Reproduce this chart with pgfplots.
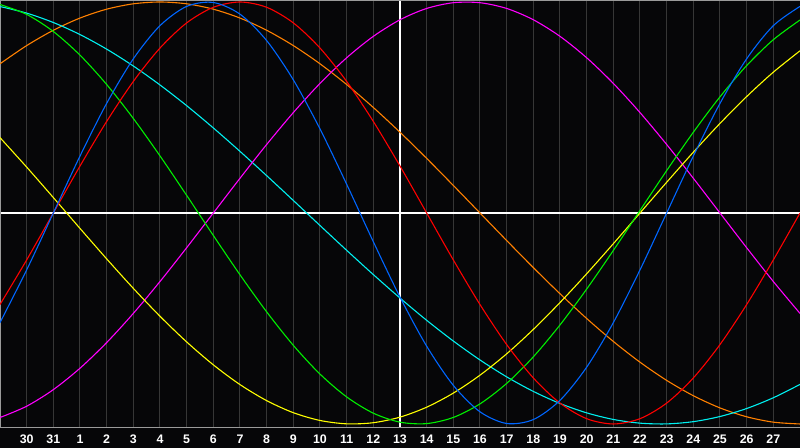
\documentclass[border=0pt]{standalone}
\usepackage{fontspec}
\setmainfont{Liberation Sans}
\usepackage{pgfplots}
\pgfplotsset{compat=1.18}
\definecolor{bg}{HTML}{060608}
\definecolor{gridc}{HTML}{363636}
\definecolor{bordc}{HTML}{9A9A9A}
\definecolor{cred}{HTML}{FF0000}
\definecolor{cblue}{HTML}{0066FF}
\definecolor{cgreen}{HTML}{00EE00}
\definecolor{ccyan}{HTML}{00F0F0}
\definecolor{corange}{HTML}{FF8000}
\definecolor{cyellow}{HTML}{FFFF00}
\definecolor{cmag}{HTML}{FF00FF}
\begin{document}
\begin{tikzpicture}
\fill[bg] (0,0) rectangle (400pt,224pt);
\useasboundingbox (0,0) rectangle (400pt,224pt);
\begin{axis}[at={(0pt,10pt)}, anchor=south west,
  width=400pt, height=214pt, scale only axis,
  xmin=0, xmax=30, ymin=-1.019, ymax=1.0095,
  axis line style={draw=none},
  xtick={1,...,29},
  xticklabels={30,31,1,2,3,4,5,6,7,8,9,10,11,12,13,14,15,16,17,18,19,20,21,22,23,24,25,26,27},
  ytick=\empty, major tick length=0pt,
  xmajorgrids, grid style={color=gridc, line width=0.5pt},
  xticklabel style={font=\fontsize{6.2}{7}\selectfont\bfseries, text=white, anchor=center, yshift=-5.5pt},
  every axis plot/.append style={line width=0.55pt, smooth, no markers},
]
\draw[white, line width=0.55pt] (axis cs:15,-1.019) -- (axis cs:15,1.0095);
\draw[white, line width=0.55pt] (axis cs:0,0) -- (axis cs:30,0);
\draw[bordc, line width=1pt] (rel axis cs:0,0) -- (rel axis cs:0,1) -- (rel axis cs:1,1);
\draw[bordc, line width=0.6pt] (rel axis cs:0,0) -- (rel axis cs:1,0);
% orange (48)
\addplot[corange] coordinates {(0,0.7071)(1,0.7934)(2,0.8660)(3,0.9239)(4,0.9659)(5,0.9914)(6,1)(7,0.9914)(8,0.9659)(9,0.9239)(10,0.8660)(11,0.7934)(12,0.7071)(13,0.6088)(14,0.5)(15,0.3827)(16,0.2588)(17,0.1305)(18,0)(19,-0.1305)(20,-0.2588)(21,-0.3827)(22,-0.5)(23,-0.6088)(24,-0.7071)(25,-0.7934)(26,-0.8660)(27,-0.9239)(28,-0.9659)(29,-0.9914)(30,-1)};
% cyan (53)
\addplot[ccyan] coordinates {(0,0.9785)(1,0.9473)(2,0.9028)(3,0.8457)(4,0.7766)(5,0.6966)(6,0.6068)(7,0.5086)(8,0.4031)(9,0.2920)(10,0.1769)(11,0.0593)(12,-0.0593)(13,-0.1769)(14,-0.2920)(15,-0.4031)(16,-0.5086)(17,-0.6068)(18,-0.6966)(19,-0.7766)(20,-0.8457)(21,-0.9028)(22,-0.9473)(23,-0.9785)(24,-0.9961)(25,-0.9996)(26,-0.9890)(27,-0.9646)(28,-0.9267)(29,-0.8757)(30,-0.8125)};
% magenta (38)
\addplot[cmag] coordinates {(0,-0.9694)(1,-0.9158)(2,-0.8372)(3,-0.7357)(4,-0.6142)(5,-0.4759)(6,-0.3247)(7,-0.1646)(8,0)(9,0.1646)(10,0.3247)(11,0.4759)(12,0.6142)(13,0.7357)(14,0.8372)(15,0.9158)(16,0.9694)(17,0.9966)(18,0.9966)(19,0.9694)(20,0.9158)(21,0.8372)(22,0.7357)(23,0.6142)(24,0.4759)(25,0.3247)(26,0.1646)(27,0)(28,-0.1646)(29,-0.3247)(30,-0.4759)};
% yellow (43)
\addplot[cyellow] coordinates {(0,0.3572)(1,0.2175)(2,0.0731)(3,-0.0731)(4,-0.2175)(5,-0.3572)(6,-0.4894)(7,-0.6111)(8,-0.7197)(9,-0.8133)(10,-0.8893)(11,-0.9465)(12,-0.9833)(13,-0.9993)(14,-0.9940)(15,-0.9675)(16,-0.9204)(17,-0.8536)(18,-0.7687)(19,-0.6675)(20,-0.5518)(21,-0.4245)(22,-0.2881)(23,-0.1456)(24,0)(25,0.1456)(26,0.2881)(27,0.4245)(28,0.5518)(29,0.6674)(30,0.7686)};
% green (33)
\addplot[cgreen] coordinates {(0,0.9881)(1,0.9412)(2,0.8602)(3,0.7481)(4,0.6090)(5,0.4479)(6,0.2706)(7,0.0835)(8,-0.1066)(9,-0.2929)(10,-0.4686)(11,-0.6273)(12,-0.7635)(13,-0.8718)(14,-0.9488)(15,-0.9914)(16,-0.9982)(17,-0.9690)(18,-0.9047)(19,-0.8077)(20,-0.6817)(21,-0.5306)(22,-0.3606)(23,-0.1776)(24,0.0119)(25,0.2009)(26,0.3827)(27,0.5506)(28,0.6986)(29,0.8213)(30,0.9146)};
% red (28)
\addplot[cred] coordinates {(0,-0.4339)(1,-0.2225)(2,0)(3,0.2225)(4,0.4339)(5,0.6235)(6,0.7818)(7,0.9010)(8,0.9749)(9,1)(10,0.9749)(11,0.9010)(12,0.7818)(13,0.6235)(14,0.4339)(15,0.2225)(16,0)(17,-0.2225)(18,-0.4339)(19,-0.6235)(20,-0.7818)(21,-0.9010)(22,-0.9749)(23,-1)(24,-0.9749)(25,-0.9010)(26,-0.7818)(27,-0.6235)(28,-0.4339)(29,-0.2225)(30,0)};
% blue (23)
\addplot[cblue] coordinates {(0,-0.5196)(1,-0.2698)(2,0)(3,0.2698)(4,0.5196)(5,0.7308)(6,0.8879)(7,0.9791)(8,0.9977)(9,0.9423)(10,0.8170)(11,0.6311)(12,0.3984)(13,0.1362)(14,-0.1362)(15,-0.3984)(16,-0.6311)(17,-0.8170)(18,-0.9423)(19,-0.9977)(20,-0.9791)(21,-0.8879)(22,-0.7308)(23,-0.5196)(24,-0.2698)(25,0)(26,0.2698)(27,0.5196)(28,0.7308)(29,0.8879)(30,0.9791)};
\end{axis}
\end{tikzpicture}
\end{document}
